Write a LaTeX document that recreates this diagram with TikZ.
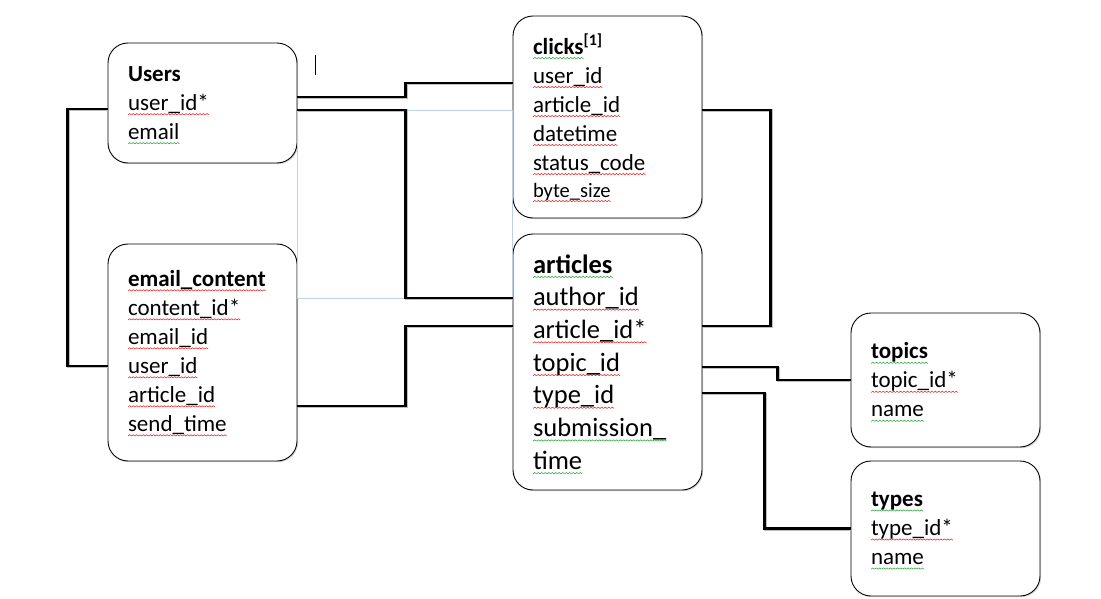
\documentclass[tikz,border=0pt]{standalone}
\usepackage{fontspec}
\setmainfont{Carlito}
\usetikzlibrary{shadows}
\definecolor{sqred}{RGB}{235,30,30}
\definecolor{sqgreen}{RGB}{40,165,60}
\definecolor{gridblue}{RGB}{190,208,232}
% spell-check squiggles under words
\newsavebox\redwave
\newsavebox\greenwave
\newsavebox\sqword
\newcommand\mkwave[2]{\sbox#1{\begin{pgfpicture}%
  \pgfpathmoveto{\pgfpointorigin}\pgfpathlineto{\pgfpoint{1.7pt}{1.3pt}}%
  \pgfpathlineto{\pgfpoint{3.4pt}{0pt}}\pgfsetstrokecolor{#2}%
  \pgfsetlinewidth{0.55pt}\pgfusepath{stroke}\pgfresetboundingbox
  \pgfpathrectangle{\pgfpointorigin}{\pgfpoint{3.4pt}{1.3pt}}%
  \pgfusepath{use as bounding box}\end{pgfpicture}}}
\AtBeginDocument{\mkwave\redwave{sqred}\mkwave\greenwave{sqgreen}}
\newcommand\sqline[2]{\leavevmode\sbox\sqword{#2}\rlap{\raisebox{-4.5pt}[0pt][0pt]{%
  \hbox to\wd\sqword{\xleaders\copy#1\hfill}}}\usebox\sqword}
\newcommand\rsq{\sqline\redwave}% red squiggle
\newcommand\gsq{\sqline\greenwave}% green squiggle
\tikzset{
  ent_box/.style = {draw=black, line width=0.9pt, rounded corners=20pt,
    fill=white, drop shadow={shadow xshift=1.2pt, shadow yshift=-1.2pt,
    opacity=0.3}, align=left, text width=149pt, inner xsep=20pt,
    inner ysep=0pt, font=\fontsize{23}{29}\selectfont},% table box
  ent_big/.style = {ent_box, font=\fontsize{26.5}{32.7}\selectfont},% table box, big text
  rel_line/.style = {line width=2.6pt, preaction={draw=black!25,
    line width=2.6pt, transform canvas={shift={(0.8pt,-0.8pt)}}}},% relation
  grid_line/.style = {draw=gridblue, line width=0.6pt}% table grid
}
\begin{document}
\begin{tikzpicture}[x=1pt,y=-1pt]
\useasboundingbox (0,0) rectangle (1101,599);
% tables
\node [ent_box, minimum height=120pt] (users) at (202.5,103)
  {\textbf{Users}\\ \rsq{user\_id*}\\ \gsq{email}};
\node [ent_box, minimum height=202pt] (clicks) at (607.5,117)
  {\textbf{\gsq{clicks}}\textsuperscript{\textbf{[1]}}\\ \rsq{user\_id}\\
   \rsq{article\_id}\\ \rsq{datetime}\\ \rsq{status\_code}\\[-2pt]
   {\fontsize{20.5}{24}\selectfont\rsq{byte\_size}}};
\node [ent_box, minimum height=217pt] (email) at (202.5,352.5)
  {\textbf{\rsq{email\_content}}\\ \rsq{content\_id*}\\ \rsq{email\_id}\\
   \rsq{user\_id}\\ \rsq{article\_id}\\ \rsq{send\_time}};
\node [ent_big, minimum height=256pt] (articles) at (607.5,362)
  {\textbf{\gsq{articles}}\\ \rsq{author\_id}\\ \rsq{article\_id*}\\
   \rsq{topic\_id}\\ \rsq{type\_id}\\ \gsq{submission\_}\\ \gsq{time}};
\node [ent_box, minimum height=134pt] (topics) at (945.5,380)
  {\textbf{\gsq{topics}}\\ \rsq{topic\_id*}\\ \gsq{name}};
\node [ent_box, minimum height=135pt] (types) at (945.5,528.5)
  {\textbf{\gsq{types}}\\ \rsq{type\_id*}\\ \gsq{name}};
% grid left behind between the tables
\draw [grid_line] ([yshift=-7pt]users.east) rectangle ([yshift=64pt]articles.west);
% relations
\draw [rel_line] ([yshift=6pt]users.east) -- ++(108,0) |- ([yshift=34pt]clicks.west);
\draw [rel_line] ([yshift=-7pt]users.east) -- ++(108,0) |- ([yshift=64pt]articles.west);
\draw [rel_line] ([yshift=-6pt]users.west) -- ++(-40,0) |- ([yshift=-13.5pt]email.west);
\draw [rel_line] ([yshift=-53.5pt]email.east) -- ++(108,0) |- ([yshift=36pt]articles.west);
\draw [rel_line] ([yshift=7pt]clicks.east) -- ++(68,0) |- ([yshift=36pt]articles.east);
\draw [rel_line] ([yshift=-5pt]articles.east) -- ++(75,0) |- (topics.west);
\draw [rel_line] ([yshift=-31pt]articles.east) -- ++(62,0) |- (types.west);
% text cursor
\coordinate (caret) at (315,55);
\draw [line width=0.8pt] (caret) -- ++(0,20);
\end{tikzpicture}
\end{document}
